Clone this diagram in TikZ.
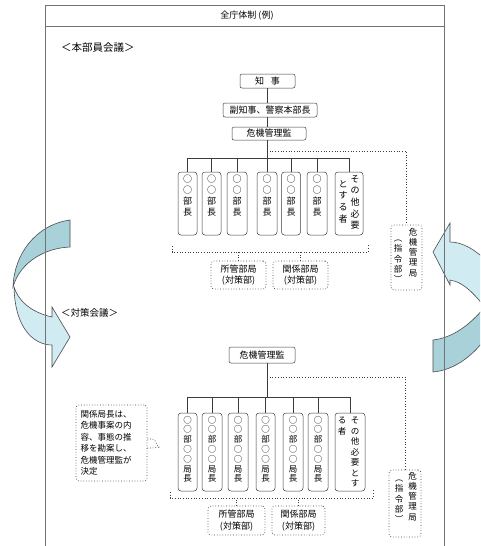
\documentclass[tikz,border=0pt]{standalone}
\usepackage{fontspec}
\setmainfont{Noto Sans CJK JP}
\definecolor{arlight}{RGB}{208,235,241}
\definecolor{ardark}{RGB}{168,209,217}
\definecolor{ln}{RGB}{60,60,60}
\begin{document}
\begin{tikzpicture}[x=1pt,y=-1pt,
  hbox/.style={draw=ln, rounded corners=2pt, line width=0.5pt, inner sep=0pt, font=\fontsize{9}{11}\selectfont},
  vbox/.style={draw=ln, rounded corners=3pt, line width=0.5pt, inner sep=0pt},
  dbox/.style={draw=ln, dotted, line width=0.7pt, rounded corners=3pt, inner sep=0pt},
  vtxt/.style={align=center, inner sep=0pt, anchor=north},
  link/.style={draw=ln, line width=0.5pt},
  dlink/.style={draw=ln, dotted, line width=0.7pt},
  arstyle/.style={draw=black!70, line width=0.6pt},
  frame/.style={draw=black!55, line width=0.6pt},
  utext/.style={vtxt, font=\fontsize{9}{11}\selectfont},
  ltext/.style={vtxt, font=\fontsize{8.5}{9.8}\selectfont},
  ktext/.style={vtxt, font=\fontsize{8.5}{10.2}\selectfont},
  btext/.style={align=center, font=\fontsize{9}{11.5}\selectfont}
]
\useasboundingbox (0,0) rectangle (480,546);
\clip (0,0) rectangle (480,546);
\fill[white] (0,0) rectangle (480,546);

% ---- arrows
\draw[arstyle, fill=arlight] (14,287) .. controls (15,330) and (35,345) .. (52,345) -- (52,367) -- (70,337) -- (52,307) -- (52,317) .. controls (30,312) and (18,300) .. (14,287) -- cycle;
\draw[arstyle, fill=ardark] (70,220) .. controls (35,225) and (14,255) .. (13,287) .. controls (20,262) and (45,248) .. (70,247) -- cycle;
\draw[arstyle, fill=arlight] (490,264) .. controls (475,249) and (462,242) .. (450,242) -- (450,223) -- (433,252) -- (450,285) -- (450,280) .. controls (465,282) and (478,298) .. (490,314) -- cycle;
\draw[arstyle, fill=ardark] (433,340) .. controls (452,338) and (472,325) .. (490,300) -- (490,332) .. controls (475,355) and (455,370) .. (433,372) -- cycle;

% ---- frame
\draw[frame] (45,5) rectangle (444,560);
\draw[frame] (45,26) -- (444,26);
\node[font=\fontsize{9}{11}\selectfont] (title) at (247,16) {全庁体制 (例)};

% ---- upper section
\node[anchor=west, inner sep=0pt, font=\fontsize{10.5}{12}\selectfont] (sec1) at (61,48) {＜本部員会議＞};

\node[hbox, minimum width=55, minimum height=14] (gov) at (267.5,81) {知\hspace{7pt}事};
\node[hbox, minimum width=94, minimum height=14] (vice) at (270,110) {副知事、警察本部長};
\node[hbox, minimum width=74, minimum height=13] (crm1) at (269,133.5) {危機管理監};

\coordinate (b1) at (267,158);
\coordinate (b1t) at (267,151);
\draw[link] (gov.south -| b1) -- (vice.north -| b1);
\draw[link] (vice.south -| b1) -- (crm1.north -| b1);
\draw[link] (crm1.south -| b1) -- (b1);

\foreach \n/\x/\w in {1/187.5/19, 2/211.5/19, 3/237/20, 4/267/20, 5/291/19, 6/317/20} {
  \node[vbox, minimum width=\w, minimum height=63] (u\n) at (\x,203.5) {};
  \node[utext] at ([yshift=-3pt]u\n.north) {○\\○\\部\\長};
  \draw[link] (u\n.north) -- (u\n.north |- b1);
}
\node[vbox, minimum width=28, minimum height=63] (u7) at (349,203.5) {};
\node[vtxt, font=\fontsize{9}{11.7}\selectfont] at (355,175) {そ\\の\\他\\必\\要};
\node[vtxt, font=\fontsize{9}{11.7}\selectfont] at (343,180) {と\\す\\る\\者};
\draw[link] (u7.north) -- (u7.north |- b1);
\draw[link] (u1.north |- b1) -- (u7.north |- b1);

\node[dbox, minimum width=31, minimum height=65] (kk1) at (406.5,257.5) {};
\node[ktext] at (413,228) {危\\機\\管\\理\\局};
\node[ktext] at (398,240) {︵\\指\\令\\部\\︶};
\draw[dlink] (b1t) -| (kk1.north);

\coordinate (brU) at (0,252);
\draw[dlink] (172,246) -- (172,252) -- (368,252) -- (368,245);
\node[dbox, btext, minimum width=55, minimum height=28] (sk1) at (238.5,275) {所管部局\\(対策部)};
\node[dbox, btext, minimum width=55, minimum height=28] (kb1) at (300.5,275) {関係部局\\(対策部)};
\draw[dlink] (sk1.north) -- (sk1.north |- brU);
\draw[dlink] (kb1.north) -- (kb1.north |- brU);

% ---- lower section
\node[anchor=west, inner sep=0pt, font=\fontsize{9.5}{12}\selectfont] (sec2) at (61,313) {＜対策会議＞};

\node[hbox, minimum width=66, minimum height=16] (crm2) at (262,355) {危機管理監};
\coordinate (b2) at (267,397);
\coordinate (b2t) at (267,377);
\draw[link] (crm2.south -| b2) -- (b2);

\foreach \n/\x/\w in {1/187.5/19, 2/212/20, 3/238/20, 4/265.5/19, 5/293/20, 6/318/20} {
  \node[vbox, minimum width=\w, minimum height=78] (l\n) at (\x,452) {};
  \node[ltext] at ([yshift=-3pt]l\n.north) {○\\○\\部\\○\\○\\局\\長};
  \draw[link] (l\n.north) -- (l\n.north |- b2);
}
\node[vbox, minimum width=30, minimum height=78] (l7) at (350,452) {};
\node[vtxt, font=\fontsize{8.5}{10.5}\selectfont] at (355,417) {そ\\の\\他\\必\\要\\と\\す};
\node[vtxt, font=\fontsize{8.5}{10.5}\selectfont] at (342,417) {る\\者};
\draw[link] (l7.north) -- (l7.north |- b2);
\draw[link] (l1.north |- b2) -- (l7.north |- b2);

\node[dbox, minimum width=32, minimum height=67] (kk2) at (405,503.5) {};
\node[ktext] at (412.5,472) {危\\機\\管\\理\\局};
\node[ktext] at (399,480) {︵\\指\\令\\部\\︶};
\draw[dlink] (b2t) -| (kk2.north);

\coordinate (brL) at (0,498);
\draw[dlink] (170,492) -- (170,498) -- (373,498) -- (373,489);
\node[dbox, btext, minimum width=57, minimum height=29] (sk2) at (236.5,520.5) {所管部局\\(対策部)};
\node[dbox, btext, minimum width=53, minimum height=29] (kb2) at (298.5,520.5) {関係部局\\(対策部)};
\draw[dlink] (sk2.north) -- (sk2.north |- brL);
\draw[dlink] (kb2.north) -- (kb2.north |- brL);

\node[dbox, minimum width=71, minimum height=76, align=left, text width=62,
      font=\fontsize{8.5}{11.5}\selectfont] (note) at (111.5,443) {関係局長は、\\危機事案の内\\容、事態の推\\移を勘案し、\\危機管理監が\\決定};
\coordinate (nb) at (160,447);
\draw[dlink] ([yshift=4pt]note.east) -- ++(5,0) to[out=0,in=180] (nb);
\draw[dlink] ([yshift=-5pt]note.east) -- ++(5,0) to[out=0,in=180] (nb);
\end{tikzpicture}
\end{document}
